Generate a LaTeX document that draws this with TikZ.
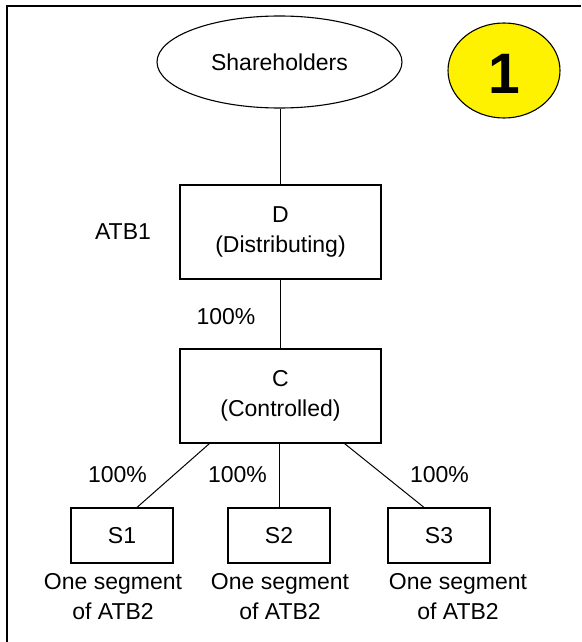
\documentclass[tikz,border=0pt]{standalone}
\usepackage{fontspec}
\setmainfont{Liberation Sans}
\usetikzlibrary{shapes.geometric,calc}
\tikzset{
  txt/.style={font=\fontsize{23}{30}\selectfont, align=center, inner sep=0pt},
  entitybox/.style={draw, line width=1.2pt, inner sep=0pt, minimum height=94pt, minimum width=201pt, txt},
  subbox/.style={draw, line width=1.2pt, inner sep=0pt, minimum height=55pt, minimum width=102pt, txt},
  conn/.style={line width=1pt},
}
\begin{document}
\begin{tikzpicture}[x=1pt,y=-1pt]
\useasboundingbox (0,0) rectangle (581,642);
\draw[line width=2pt] (7,642) -- (7,6) -- (581,6);

\node[ellipse, draw, line width=1.1pt, minimum width=245pt, minimum height=92pt, inner sep=0pt, txt] (sh) at (279.5,62) {Shareholders};
\node[ellipse, draw, line width=1.1pt, fill=yellow, minimum width=112pt, minimum height=95pt, inner sep=0pt,
      font=\fontsize{57}{57}\selectfont\bfseries, text height=46.8pt] (badge) at (504,70.5) {1};

\node[entitybox] (D) at (280.5,232) {D\\(Distributing)};
\node[entitybox] (C) at (280.5,396) {C\\(Controlled)};

\node[subbox] (S1) at (122,535.5) {S1};
\node[subbox] (S2) at (279,535.5) {S2};
\node[subbox] (S3) at (439,535.5) {S3};

\node[txt] (atb1) at (123,232) {ATB1};
\node[txt] (pDC) at (226,316.5) {100\%};
\node[txt] (p1) at (117.5,475) {100\%};
\node[txt] (p2) at (237.5,475) {100\%};
\node[txt] (p3) at (439.5,475) {100\%};

\node[txt] (seg1) at (113,597) {One segment\\of ATB2};
\node[txt] (seg2) at (280,597) {One segment\\of ATB2};
\node[txt] (seg3) at (458,597) {One segment\\of ATB2};

\draw[conn] (sh.south -| D.north) -- (D.north);
\draw[conn] (D.south) -- (C.north);
\draw[conn] ([xshift=30pt]C.south west) -- ([xshift=15pt]S1.north);
\draw[conn] (C.south -| S2.north) -- (S2.north);
\draw[conn] ([xshift=-37pt]C.south east) -- ([xshift=-15pt]S3.north);
\end{tikzpicture}
\end{document}
